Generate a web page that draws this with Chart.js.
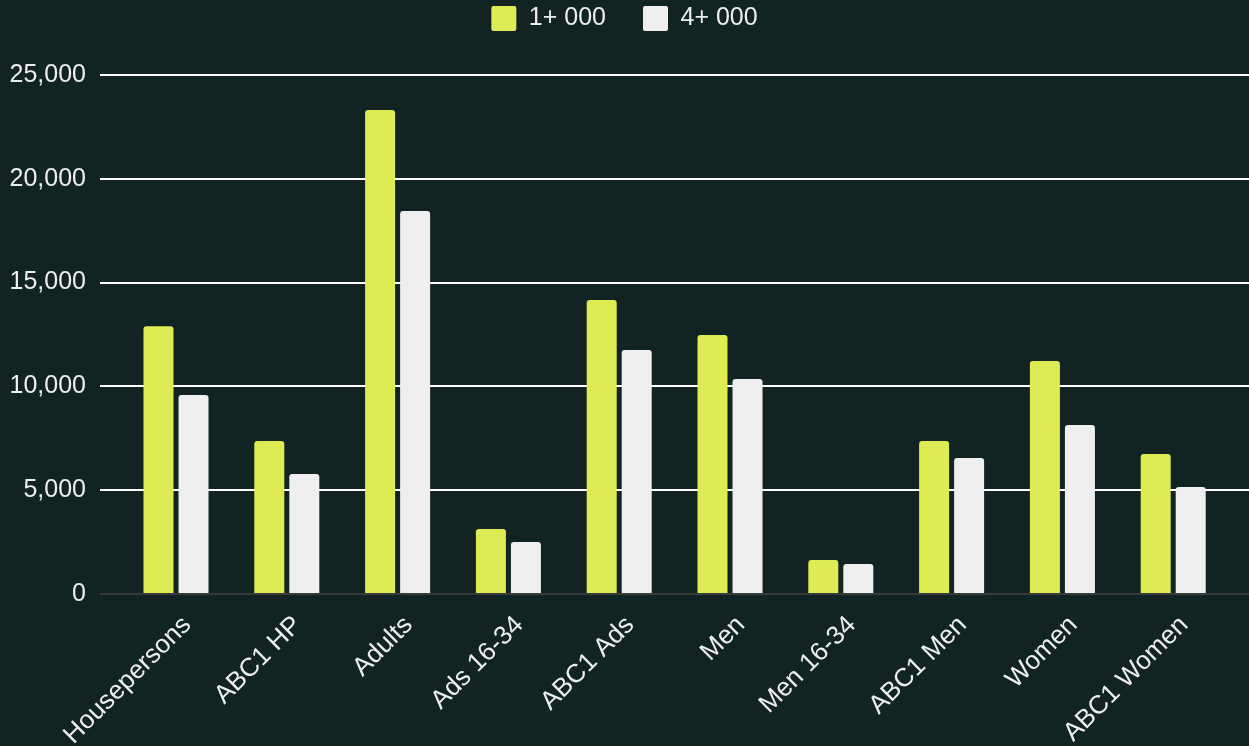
<!DOCTYPE html>
<html lang="en">
<head>
<meta charset="utf-8">
<title>Audience</title>
<script src="https://cdn.jsdelivr.net/npm/chart.js@4"></script>
<style>
  html, body { margin: 0; padding: 0; background: #112323; }
  .wrap { width: 1249px; height: 746px; }
</style>
</head>
<body>
<div class="wrap"><canvas id="chart"></canvas></div>
<script>
// values in thousands
var categories = ['Housepersons', 'ABC1 HP', 'Adults', 'Ads 16-34', 'ABC1 Ads', 'Men', 'Men 16-34', 'ABC1 Men', 'Women', 'ABC1 Women'];
var reach1 = [12900, 7370, 23310, 3130, 14160, 12480, 1640, 7370, 11220, 6740];
var reach4 = [9590, 5780, 18450, 2500, 11750, 10360, 1450, 6550, 8140, 5150];
var yTicks = [0, 5000, 10000, 15000, 20000, 25000];

var fontFamily = '"Liberation Sans", Arial, sans-serif';
var font = { family: fontFamily, size: 25 };
var textColor = '#eeeeee';

function points(arr) {
  return arr.map(function (v, i) { return { x: i, y: v }; });
}

// fixed legend box height, legend row pulled up near the top edge
var legendHeight = {
  id: 'legendHeight',
  beforeInit: function (chart) {
    var fit = chart.legend.fit;
    chart.legend.fit = function () {
      fit.call(this);
      this.height = 75;
    };
  },
  afterLayout: function (chart) {
    chart.legend.top = -31;
  }
};

var ctx = document.getElementById('chart').getContext('2d');
var chart = new Chart(ctx, {
  type: 'bar',
  data: {
    datasets: [{
      label: '1+ 000',
      backgroundColor: '#dfeb53',
      data: points(reach1)
    }, {
      label: '4+ 000',
      backgroundColor: '#efefef',
      data: points(reach4)
    }]
  },
  options: {
    responsive: true,
    maintainAspectRatio: false,
    animation: false,
    layout: { padding: 0 },
    datasets: {
      bar: {
        categoryPercentage: 0.632,
        barPercentage: 0.857,
        borderRadius: 3
      }
    },
    plugins: {
      legend: {
        position: 'top',
        labels: {
          color: textColor,
          font: font,
          boxWidth: 25,
          boxHeight: 25,
          padding: 37,
          useBorderRadius: true,
          borderRadius: 2
        }
      },
      tooltip: { enabled: false }
    },
    scales: {
      x: {
        type: 'linear',
        offset: false,
        min: -0.686,
        max: 9.684,
        grid: { display: false, offset: false },
        border: { display: false },
        afterBuildTicks: function (scale) {
          scale.ticks = categories.map(function (c, i) { return { value: i }; });
        },
        afterFit: function (scale) {
          scale.height = 152;
          scale.paddingLeft = 0;
          scale.paddingRight = 0;
        },
        ticks: {
          color: textColor,
          font: { family: fontFamily, size: 26 },
          autoSkip: false,
          minRotation: 45,
          maxRotation: 45,
          padding: 8,
          labelOffset: 11,
          callback: function (v) { return categories[v]; }
        }
      },
      y: {
        min: 0,
        max: 25000,
        afterBuildTicks: function (scale) {
          scale.ticks = yTicks.map(function (v) { return { value: v }; });
        },
        afterFit: function (scale) { scale.width = 100; },
        border: { display: false },
        grid: {
          drawTicks: false,
          lineWidth: 2,
          color: function (c) { return c.tick && c.tick.value === 0 ? '#3a3a3a' : '#ffffff'; }
        },
        ticks: {
          color: textColor,
          font: font,
          padding: 14,
          callback: function (v) { return v.toLocaleString('en-US'); }
        }
      }
    }
  },
  plugins: [legendHeight]
});
</script>
</body>
</html>
